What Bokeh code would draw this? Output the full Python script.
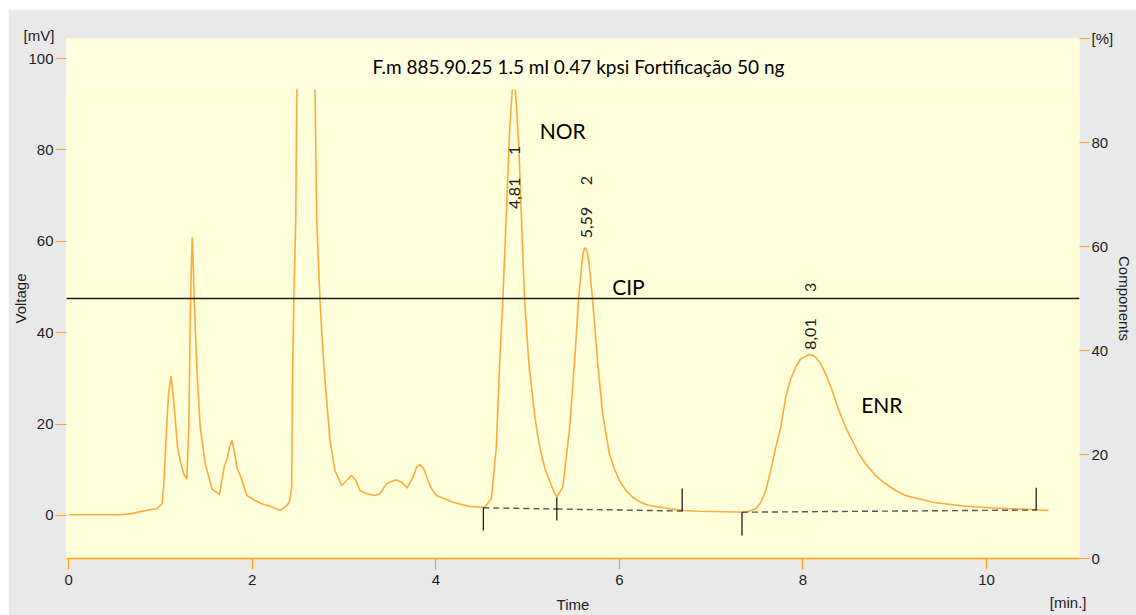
import math
from bokeh.plotting import figure
from bokeh.models import (Range1d, LinearAxis, Label, Span, BoxAnnotation,
                          FixedTicker, Spacer, Title)
from bokeh.layouts import column, row
from bokeh.embed import file_html
from bokeh.resources import INLINE

# ---------------- data ----------------
time_min = [0.00, 0.56, 0.67, 0.84, 0.96, 1.017, 1.034, 1.053, 1.071, 1.088,
            1.115, 1.136, 1.162, 1.186, 1.215, 1.251, 1.288, 1.310, 1.324, 1.335,
            1.346, 1.357, 1.368, 1.397, 1.433, 1.488, 1.560, 1.643, 1.669, 1.694,
            1.730, 1.752, 1.778, 1.803, 1.832, 1.876, 1.941, 2.031, 2.121, 2.176,
            2.230, 2.303, 2.376, 2.404, 2.430, 2.437, 2.455, 2.474, 2.485, 2.586,
            2.684, 2.702, 2.738, 2.760, 2.792, 2.847, 2.901, 2.974, 3.028, 3.083,
            3.129, 3.173, 3.246, 3.336, 3.390, 3.463, 3.499, 3.564, 3.626, 3.687,
            3.752, 3.789, 3.825, 3.869, 3.915, 3.952, 4.007, 4.187, 4.369, 4.532,
            4.605, 4.659, 4.695, 4.731, 4.768, 4.804, 4.833, 4.848, 4.869, 4.905,
            4.931, 4.967, 5.014, 5.075, 5.110, 5.148, 5.190, 5.238, 5.280, 5.318,
            5.383, 5.455, 5.510, 5.557, 5.594, 5.609, 5.627, 5.646, 5.666, 5.709,
            5.764, 5.818, 5.891, 5.940, 6.000, 6.070, 6.144, 6.230, 6.326, 6.543,
            6.706, 6.869, 7.377, 7.486, 7.541, 7.595, 7.650, 7.704, 7.758, 7.812,
            7.867, 7.921, 7.975, 8.011, 8.066, 8.102, 8.138, 8.193, 8.247, 8.319,
            8.392, 8.465, 8.537, 8.609, 8.682, 8.791, 8.899, 9.008, 9.117, 9.262,
            9.406, 9.769, 10.131, 10.494, 10.675]
signal_mv = [0.15, 0.15, 0.35, 1.09, 1.47, 2.56, 6.19, 13.57, 20.79, 26.70,
             30.42, 26.70, 20.79, 14.95, 12.04, 9.19, 8.03, 20.79, 42.67, 53.60,
             60.77, 54.70, 47.05, 31.73, 19.32, 11.31, 5.84, 4.60, 7.66, 10.57,
             12.76, 14.95, 16.41, 14.22, 10.57, 8.38, 4.38, 3.28, 2.41, 2.19,
             1.69, 1.09, 2.19, 2.91, 6.19, 28.07, 49.96, 64.55, 93.15, 101.0,
             93.15, 64.55, 47.05, 38.95, 29.54, 16.41, 9.85, 6.56, 7.66, 8.75,
             7.66, 5.47, 4.75, 4.38, 4.75, 6.94, 7.29, 7.81, 7.29, 6.06,
             8.38, 10.57, 11.16, 10.20, 7.66, 5.84, 4.38, 2.91, 1.97, 1.82,
             3.65, 14.95, 33.19, 47.77, 66.02, 84.25, 93.15, 97.0, 92.28, 80.59,
             66.02, 47.05, 33.19, 22.25, 17.50, 13.50, 10.20, 7.66, 5.50, 4.00,
             6.19, 18.60, 33.19, 47.77, 55.80, 57.90, 58.58, 57.90, 55.80, 47.05,
             33.19, 22.25, 13.50, 10.50, 7.66, 5.50, 4.00, 2.90, 2.19, 1.47,
             1.09, 0.94, 0.72, 1.47, 2.91, 5.47, 9.85, 14.95, 19.32, 25.89,
             29.90, 32.45, 34.30, 34.64, 35.23, 35.08, 34.64, 33.20, 31.01, 27.35,
             22.98, 19.32, 16.41, 13.50, 11.31, 8.75, 6.94, 5.47, 4.38, 3.65,
             2.91, 2.04, 1.60, 1.31, 1.09]

# integration baselines (start/end of each peak)
base_t0 = [4.518, 5.318, 7.336]
base_v0 = [1.68, 1.42, 0.72]
base_t1 = [5.318, 6.684, 10.541]
base_v1 = [1.42, 0.98, 1.20]

# peak start/end markers
marker_t = [4.518, 5.318, 6.684, 7.336, 10.541]
marker_top = [1.68, 3.94, 5.90, 0.72, 6.06]
marker_bottom = [-3.28, -1.09, 0.90, -4.38, 1.09]

peak_rt_labels = ["4,81", "5,59", "8,01"]
peak_numbers = ["1", "2", "3"]
compound_names = ["NOR", "CIP", "ENR"]

x_ticks = [0, 2, 4, 6, 8, 10]
y_ticks = [0, 20, 40, 60, 80, 100]
pct_ticks = [0, 20, 40, 60, 80, 100]
threshold_pct = 50

title_text = "F.m 885.90.25 1.5 ml 0.47 kpsi Fortificação 50 ng"

# ---------------- styles ----------------
ORANGE = "#ffa31a"
TRACE = "#ffa030"
PLOT_BG = "#ffffda"
PAGE_BG = "#e9e9e9"
TXT = "#1e1e28"
AX_FONT = "Liberation Sans"

p = figure(width=1128, height=606, output_backend="svg", toolbar_location=None,
           x_range=Range1d(-0.024, 11.013), y_range=Range1d(-9.41, 104.38),
           min_border_left=58, min_border_right=55, min_border_top=29,
           min_border_bottom=57)
p.extra_y_ranges = {"pct": Range1d(0, 100)}
p.background_fill_color = PLOT_BG
p.border_fill_color = PAGE_BG
p.outline_line_color = None
p.xgrid.visible = False
p.ygrid.visible = False


def style_axis(ax, tick_out, standoff):
    ax.major_tick_line_color = ORANGE
    ax.major_tick_line_width = 1.2
    ax.major_tick_out = tick_out
    ax.major_tick_in = 0
    ax.minor_tick_line_color = None
    ax.major_label_text_font = AX_FONT
    ax.major_label_text_font_size = "15px"
    ax.major_label_text_color = TXT
    ax.major_label_standoff = standoff
    ax.axis_label_text_font = AX_FONT
    ax.axis_label_text_font_size = "15px"
    ax.axis_label_text_font_style = "normal"
    ax.axis_label_text_color = TXT


# bottom axis
xa = p.xaxis[0]
xa.ticker = FixedTicker(ticks=x_ticks)
xa.axis_line_color = ORANGE
xa.axis_line_width = 1.5
style_axis(xa, 11, 5)
xa.axis_label = "Time"
xa.axis_label_standoff = 8

# left axis
ya = p.yaxis[0]
ya.ticker = FixedTicker(ticks=y_ticks)
ya.axis_line_color = None
style_axis(ya, 11, 2)
ya.axis_label = "Voltage"
ya.axis_label_standoff = -4

# right axis (percent)
ra = LinearAxis(y_range_name="pct")
ra.ticker = FixedTicker(ticks=pct_ticks)
ra.major_label_overrides = {100: "[%]"}
ra.axis_line_color = None
style_axis(ra, 10, 2)
ra.axis_label = "Components"
ra.axis_label_standoff = 0
p.add_layout(ra, "right")

# unit of the voltage axis, drawn above the frame
p.add_layout(Title(text="[mV]", align="left", offset=-43, standoff=-10,
                   text_font=AX_FONT, text_font_size="15px",
                   text_font_style="normal", text_color=TXT), "above")

# unit of the time axis, drawn below the axis
p.add_layout(Title(text="[min.]", align="right", offset=-7, standoff=-44,
                   vertical_align="top",
                   text_font=AX_FONT, text_font_size="15px",
                   text_font_style="normal", text_color=TXT), "below")

# threshold line (50 % components)
p.add_layout(Span(location=threshold_pct, dimension="width", y_range_name="pct",
                  line_color="#1a1a1a", line_width=1.3))

# chromatogram trace
p.line(time_min, signal_mv, line_color=TRACE, line_width=1.6, line_alpha=0.9,
       line_join="round")

# integration baselines and markers
p.segment(x0=base_t0, y0=base_v0, x1=base_t1, y1=base_v1,
          line_color="#555555", line_width=1.4, line_dash="6 4")
p.segment(x0=marker_t, y0=marker_bottom, x1=marker_t, y1=marker_top,
          line_color="#111111", line_width=1.2)

# title box (covers clipped peak tops)
p.add_layout(BoxAnnotation(bottom=93.2, fill_color="#fffedf", fill_alpha=1.0,
                           line_color=None))
p.add_layout(Label(x=5.554, y=98.25, text=title_text, text_align="center",
                   text_baseline="middle", text_font="Lato",
                   text_font_size="19px", text_color="black"))

# peak labels (rotated)
rt_pos = [(4.857, 70.5), (5.641, 64.1), (8.077, 39.7)]
num_pos = [(4.857, 79.9), (5.641, 73.3), (8.077, 49.9)]
for txt, (x, y) in zip(peak_rt_labels, rt_pos):
    p.add_layout(Label(x=x, y=y, text=txt, angle=math.pi / 2, text_align="center",
                       text_baseline="middle", text_font="Lato",
                       text_font_size="16px", text_color=TXT))
for txt, (x, y) in zip(peak_numbers, num_pos):
    p.add_layout(Label(x=x, y=y, text=txt, angle=math.pi / 2, text_align="center",
                       text_baseline="middle", text_font="Lato",
                       text_font_size="16px", text_color=TXT))

# compound names
name_pos = [(5.383, 84.2), (6.098, 50.1), (8.859, 24.2)]
for txt, (x, y) in zip(compound_names, name_pos):
    p.add_layout(Label(x=x, y=y, text=txt, text_align="center",
                       text_baseline="middle", text_font="Lato",
                       text_font_size="21px", text_color="black"))

layout = column(Spacer(width=1136, height=9),
                row(Spacer(width=8, height=606), p))

open("out.html", "w").write(file_html(layout, INLINE))
